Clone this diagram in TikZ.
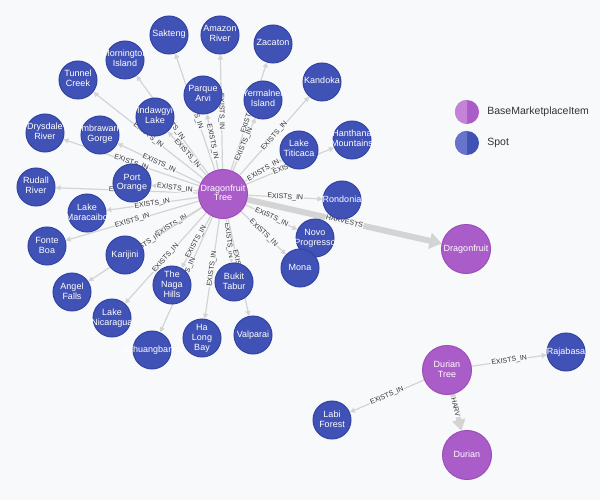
\documentclass[tikz,border=0pt]{standalone}
\usepackage{fontspec}
\setmainfont{Liberation Sans}
\usetikzlibrary{positioning,arrows.meta}

\definecolor{bgcol}{HTML}{F8F9FB}
\definecolor{spotcol}{HTML}{4052B5}
\definecolor{spotline}{HTML}{3343A4}
\definecolor{spotlight}{HTML}{6674CC}
\definecolor{itemcol}{HTML}{AA5CC9}
\definecolor{itemline}{HTML}{9B4DBA}
\definecolor{itemlight}{HTML}{C283D9}
\definecolor{relcol}{HTML}{D4D4D4}
\definecolor{txtcol}{HTML}{333333}

\pgfdeclarelayer{edges}
\pgfsetlayers{edges,main}

% caption that does not widen the circle
\newcommand{\capt}[1]{\hbox to 0pt{\hss\begin{tabular}{@{}c@{}}#1\end{tabular}\hss}}

\tikzset{
    spot/.style={circle,fill=spotcol,draw=spotline,line width=1pt,minimum size=38pt,
        inner sep=0pt,text=white,font=\fontsize{9}{10}\selectfont},
    item/.style={spot,fill=itemcol,draw=itemline,minimum size=49pt},
    rel/.style={draw=relcol,line width=1.2pt,-{Triangle[length=5pt,width=5pt]}},
    heavy/.style={draw=relcol,line width=6pt,-{Triangle[length=12pt,width=16pt]}},
    lbl/.style={sloped,fill=bgcol,inner sep=0.6pt,text=txtcol,font=\fontsize{7}{7}\selectfont},
    legdot/.style={circle,minimum size=24pt,inner sep=0pt},
    legtxt/.style={text=txtcol,font=\fontsize{10.5}{12}\selectfont,inner sep=0pt}
}

\begin{document}
\begin{tikzpicture}[x=1pt,y=-1pt]
    \useasboundingbox (0,0) rectangle (600,500);

    % harvested items and trees
    \node (dt) [item] at (223,194) {\capt{Dragonfruit\\Tree}};
    \node (df) [item] at (466,249) {\capt{Dragonfruit}};
    \node (durt) [item] at (447,370) {\capt{Durian\\Tree}};
    \node (dur) [item] at (467,455) {\capt{Durian}};

    % spots
    \node (sakteng) [spot] at (169,35) {\capt{Sakteng}};
    \node (amazon) [spot] at (220,35) {\capt{Amazon\\River}};
    \node (zacaton) [spot] at (273,44) {\capt{Zacaton}};
    \node (mornington) [spot] at (125,60) {\capt{Mornington\\Island}};
    \node (kandoka) [spot] at (322,82) {\capt{Kandoka}};
    \node (tunnel) [spot] at (78,80) {\capt{Tunnel\\Creek}};
    \node (parque) [spot] at (203,95) {\capt{Parque\\Arvi}};
    \node (yermalner) [spot] at (263,100) {\capt{Yermalner\\Island}};
    \node (indawgyi) [spot] at (155,117) {\capt{Indawgyi\\Lake}};
    \node (titicaca) [spot] at (299,150) {\capt{Lake\\Titicaca}};
    \node (hanthana) [spot] at (352,140) {\capt{Hanthana\\Mountains}};
    \node (drysdale) [spot] at (45,133) {\capt{Drysdale\\River}};
    \node (umbrawarra) [spot] at (100,135) {\capt{Umbrawarra\\Gorge}};
    \node (rudall) [spot] at (36,187) {\capt{Rudall\\River}};
    \node (port) [spot] at (132,183) {\capt{Port\\Orange}};
    \node (maracaibo) [spot] at (87,213) {\capt{Lake\\Maracaibo}};
    \node (fonte) [spot] at (47,246) {\capt{Fonte\\Boa}};
    \node (karijini) [spot] at (125,255) {\capt{Karijini}};
    \node (rondonia) [spot] at (342,200) {\capt{Rondonia}};
    \node (novo) [spot] at (315,238) {\capt{Novo\\Progresso}};
    \node (mona) [spot] at (300,268) {\capt{Mona}};
    \node (angel) [spot] at (72,292) {\capt{Angel\\Falls}};
    \node (naga) [spot] at (172,285) {\capt{The\\Naga\\Hills}};
    \node (bukit) [spot] at (234,282) {\capt{Bukit\\Tabur}};
    \node (nicaragua) [spot] at (112,318) {\capt{Lake\\Nicaragua}};
    \node (halong) [spot] at (202,338) {\capt{Ha\\Long\\Bay}};
    \node (valparai) [spot] at (253,335) {\capt{Valparai}};
    \node (xishuang) [spot] at (152,350) {\capt{Xishuangbanna}};
    \node (rajabasa) [spot] at (566,352) {\capt{Rajabasa}};
    \node (labi) [spot] at (332,420) {\capt{Labi\\Forest}};

    % relationships, behind the nodes
    \begin{pgfonlayer}{edges}
        \fill[bgcol] (0,0) rectangle (600,500);
        \foreach \t in {sakteng,amazon,zacaton,mornington,kandoka,tunnel,parque,
                yermalner,indawgyi,titicaca,hanthana,drysdale,umbrawarra,rudall,
                port,maracaibo,fonte,karijini,rondonia,novo,mona,angel,naga,
                bukit,nicaragua,halong,valparai,xishuang}
            \draw[rel] (dt) -- node[lbl] {EXISTS\_IN} (\t);
        \draw[heavy] (dt) -- node[lbl] {HARVESTS} (df);
        \draw[rel] (durt) -- node[lbl] {EXISTS\_IN} (rajabasa);
        \draw[rel] (durt) -- node[lbl] {EXISTS\_IN} (labi);
        \draw[heavy,line width=5pt,-{Triangle[length=11pt,width=13pt]}]
            (durt) -- node[lbl,pos=0.35] {HARV} (dur);
    \end{pgfonlayer}

    % legend
    \node (lgitem) [legdot,fill=itemcol] at (467,112) {};
    \fill[itemlight] (lgitem.north) arc[start angle=90,end angle=270,radius=12pt] -- cycle;
    \node [legtxt,right=8pt of lgitem] {BaseMarketplaceItem};
    \node (lgspot) [legdot,fill=spotcol] at (467,143) {};
    \fill[spotlight] (lgspot.north) arc[start angle=90,end angle=270,radius=12pt] -- cycle;
    \node [legtxt,right=8pt of lgspot] {Spot};
\end{tikzpicture}
\end{document}
